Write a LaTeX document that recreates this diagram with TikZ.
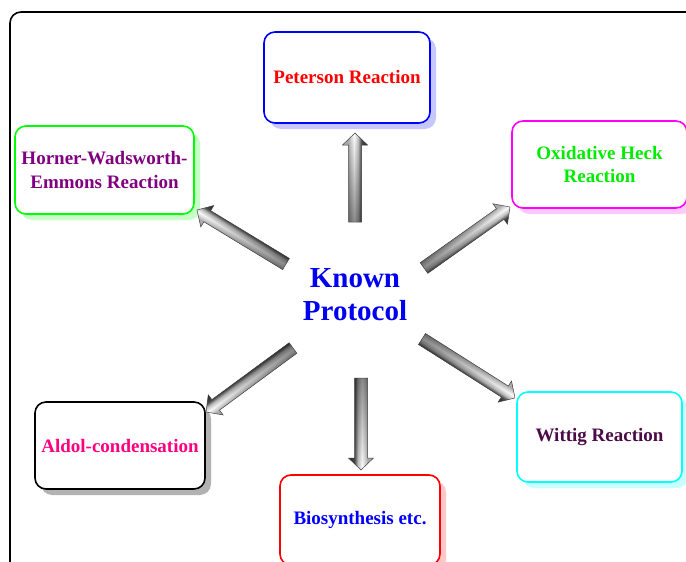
\documentclass[tikz,border=0pt]{standalone}
\usepackage{fontspec}
\setmainfont{Liberation Serif}
\usetikzlibrary{calc,shadows,fadings}

\definecolor{hwepurple}{RGB}{128,0,128}
\definecolor{heckgreen}{RGB}{0,235,0}
\definecolor{wittigplum}{RGB}{75,12,70}
\definecolor{aldolpink}{RGB}{255,0,128}
\definecolor{kpblue}{RGB}{0,0,240}
\definecolor{heckframe}{RGB}{255,0,255}
\definecolor{wittigframe}{RGB}{0,255,255}
\definecolor{heckshadow}{RGB}{255,200,255}
\definecolor{wittigshadow}{RGB}{200,255,255}

\pgfdeclareverticalshading{metalshade}{100bp}{color(0bp)=(black); color(25bp)=(black!85); color(37bp)=(black!70); color(44bp)=(gray!45); color(52bp)=(white); color(59bp)=(gray!35); color(63bp)=(gray!60); color(75bp)=(gray!60); color(100bp)=(gray!60)}
\tikzfading[name=tailfade, left color=transparent!0, right color=transparent!100]

\newcommand\boxfont{\fontsize{19}{24}\selectfont\bfseries}

\tikzset{
  protobox/.style={draw=#1, line width=1.6pt, rounded corners=11pt, fill=white,
    align=center, inner sep=0pt, font=\boxfont},
  boxshadow/.style={drop shadow={shadow xshift=6pt, shadow yshift=-6pt, fill=#1, opacity=1}},
}

% block arrow from #1 (tail) to #2 (tip)
\makeatletter
\newcommand\metalarrow[2]{%
  \pgfmathanglebetweenpoints{\pgfpointanchor{#1}{center}}{\pgfpointanchor{#2}{center}}%
  \let\arrang\pgfmathresult
  \pgfpointdiff{\pgfpointanchor{#1}{center}}{\pgfpointanchor{#2}{center}}%
  \pgfmathveclen{\the\pgf@x}{\the\pgf@y}%
  \let\arrlen\pgfmathresult
  \pgfmathsetmacro\arrneck{\arrlen-12}%
  \begin{scope}[shift={(#1)}, rotate=\arrang]
    \pgflowlevelsynccm
    \begin{scope}
      \clip (0pt,-6.5pt) -- (\arrneck pt,-6.5pt) -- (\arrneck pt,-12.5pt) -- (\arrlen pt,0pt)
        -- (\arrneck pt,12.5pt) -- (\arrneck pt,6.5pt) -- (0pt,6.5pt) -- cycle;
      \shade[shading=metalshade] (0pt,-12.5pt) rectangle (\arrlen pt,12.5pt);
      \fill[black, path fading=tailfade, fill opacity=0.45] (0pt,-12.5pt) rectangle (\arrlen pt,12.5pt);
    \end{scope}
    \draw[black!75, line width=0.5pt, line join=miter] (0pt,-6.5pt) -- (\arrneck pt,-6.5pt) -- (\arrneck pt,-12.5pt) -- (\arrlen pt,0pt)
      -- (\arrneck pt,12.5pt) -- (\arrneck pt,6.5pt) -- (0pt,6.5pt) -- cycle;
  \end{scope}%
}
\makeatother

\begin{document}
\begin{tikzpicture}[x=1pt, y=-1pt]

\path[use as bounding box, clip] (0,0) rectangle (686,562);
\draw[line width=1.6pt, rounded corners=11pt] (10,12) rectangle (720,600);

\node[font=\fontsize{29}{33}\selectfont\bfseries, text=kpblue, align=center] (kp) at (355,295) {Known\\Protocol};

\node[protobox=blue, boxshadow=blue!22, text=red, minimum width=166pt, minimum height=91pt] (pet) at (347,77.5) {Peterson Reaction};
\node[protobox=green, boxshadow=green!22, text=hwepurple, minimum width=179pt, minimum height=88pt] (hwe) at (104.5,170) {Horner-Wadsworth-\\Emmons Reaction};
\node[protobox=heckframe, boxshadow=heckshadow, text=heckgreen, minimum width=175pt, minimum height=87pt] (heck) at (599.5,164.5) {Oxidative Heck\\Reaction};

\node[protobox=black, boxshadow=gray!60, text=aldolpink, minimum width=170pt, minimum height=87pt] (ald) at (120,445.5) {Aldol-condensation};
\node[protobox=red, boxshadow=red!22, text=blue, minimum width=160pt, minimum height=90pt] (bio) at (360,520) {Biosynthesis etc.};
\node[protobox=wittigframe, boxshadow=wittigshadow, text=wittigplum, minimum width=165pt, minimum height=90pt] (wit) at (599.5,437) {Wittig Reaction};

\coordinate (pet-t) at (355,222);
\coordinate (pet-h) at (355,133);
\coordinate (hwe-t) at (286,264);
\coordinate (hwe-h) at (197,210);
\coordinate (heck-t) at (424,268);
\coordinate (heck-h) at (510,207);
\coordinate (ald-t) at (293,348);
\coordinate (ald-h) at (206,412);
\coordinate (bio-t) at (361,378);
\coordinate (bio-h) at (361,470);
\coordinate (wit-t) at (422,339);
\coordinate (wit-h) at (515,398);

\metalarrow{pet-t}{pet-h}
\metalarrow{hwe-t}{hwe-h}
\metalarrow{heck-t}{heck-h}
\metalarrow{ald-t}{ald-h}
\metalarrow{bio-t}{bio-h}
\metalarrow{wit-t}{wit-h}

\end{tikzpicture}
\end{document}
